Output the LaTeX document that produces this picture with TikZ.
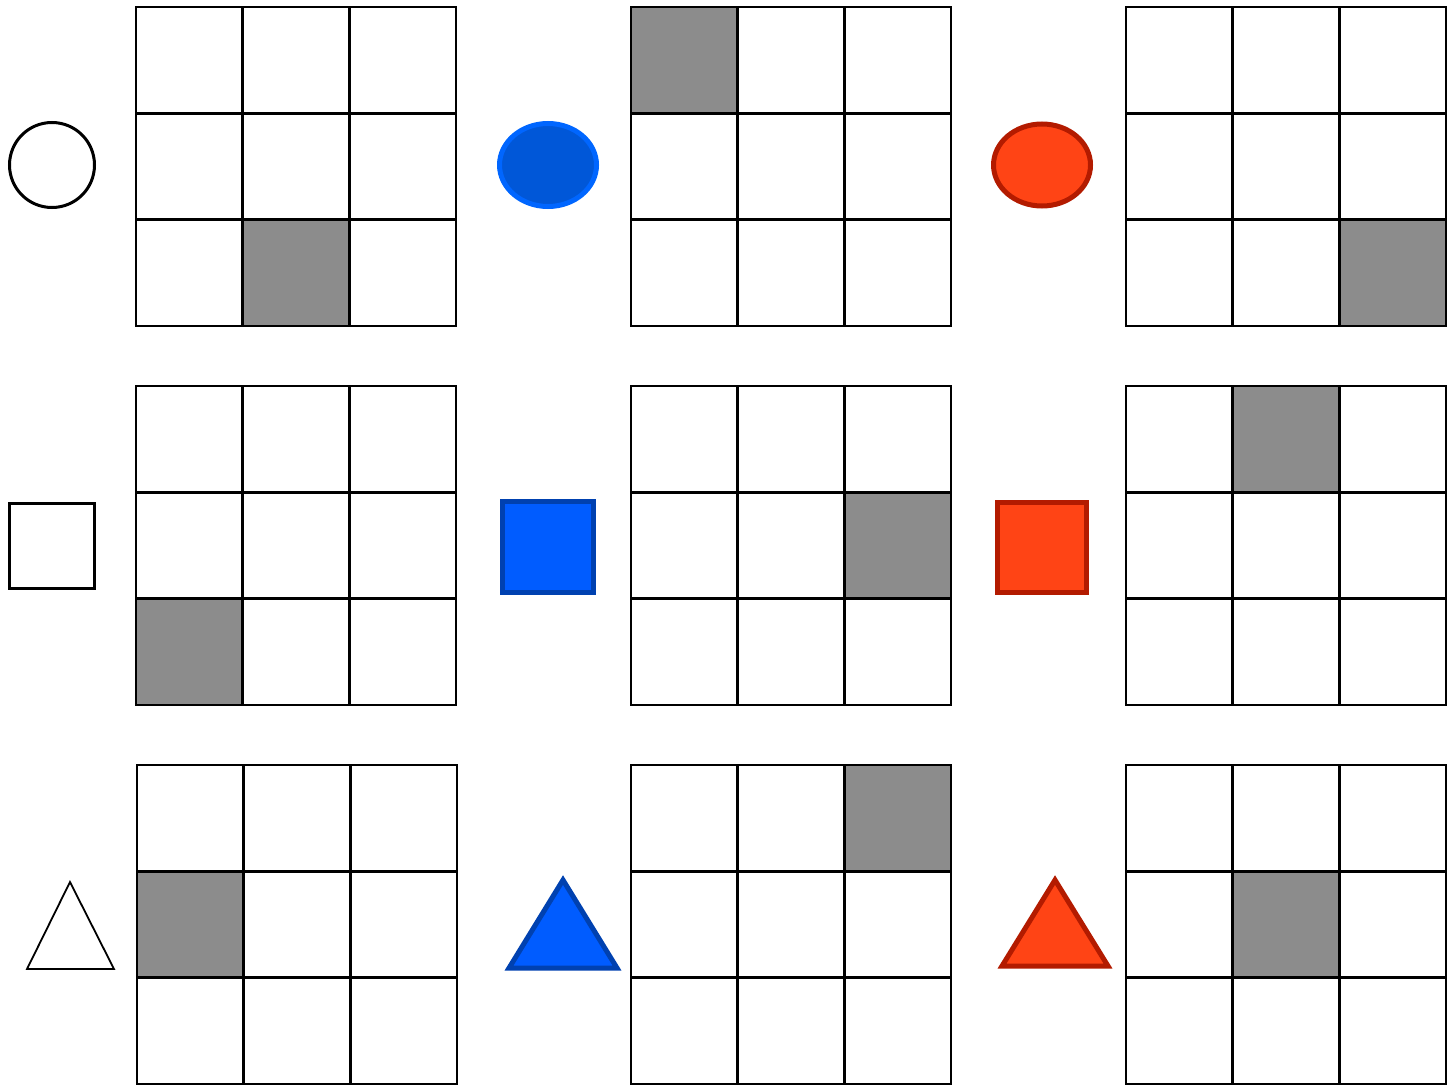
\documentclass[tikz,border=0pt]{standalone}
\usepackage{tikz}
\usetikzlibrary{shapes.geometric}

\definecolor{blueA}{HTML}{0057D8}
\definecolor{blueAline}{HTML}{0066FF}
\definecolor{blueB}{HTML}{005CFF}
\definecolor{blueBline}{HTML}{0041B0}
\definecolor{redA}{HTML}{FF4415}
\definecolor{redAline}{HTML}{B31B00}
\definecolor{shade}{HTML}{8C8C8C}

\begin{document}
\begin{tikzpicture}[x=0.5pt, y=-0.5pt,
        gridline/.style={draw=black, line width=1.25pt, line cap=rect},
        hit/.style={fill=shade},
        plain/.style={draw=black, fill=white, line width=1.5pt, inner sep=0pt},
        bluefig/.style={draw=blueBline, fill=blueB, line width=2.5pt, inner sep=0pt, line join=miter},
        redfig/.style={draw=redAline, fill=redA, line width=2.5pt, inner sep=0pt, line join=miter}
    ]
        \useasboundingbox (0,0) rectangle (1454,1086);

        % Rasters: origin x / origin y / shaded column / shaded row
        \foreach \gx/\gy/\sc/\sr in {136/7/2/3, 631/7/1/1, 1126/7/3/3,
                                     136/386/1/3, 631/386/3/2, 1126/386/2/1,
                                     137/765/1/2, 631/765/3/1, 1126/765/2/2} {
            \fill[hit] ({\gx+(\sc-1)*106.67},{\gy+(\sr-1)*106.33}) rectangle ++(106.67,106.33);
            \foreach \k in {0,...,3} {
                \draw[gridline] ({\gx+\k*106.67},\gy) -- ++(0,319);
                \draw[gridline] (\gx,{\gy+\k*106.33}) -- ++(320,0);
            }
        }

        % Kreise
        \node[plain, circle, minimum size=42.5pt] (circW) at (52,165) {};
        \node[ellipse, draw=blueAline, fill=blueA, line width=2.5pt, inner sep=0pt, minimum width=48.5pt, minimum height=41.5pt] (circB) at (548,165) {};
        \node[redfig, ellipse, minimum width=48.5pt, minimum height=41pt] (circR) at (1042,165) {};

        % Quadrate
        \node[plain, rectangle, minimum size=42.5pt] (sqW) at (52,546) {};
        \node[bluefig, rectangle, minimum size=45.5pt] (sqB) at (547.5,547) {};
        \node[redfig, rectangle, minimum width=44.5pt, minimum height=45pt] (sqR) at (1042,547.5) {};

        % Dreiecke
        \draw[draw=black, line width=0.9pt, line join=miter] (70,882) -- (114,969) -- (27,969) -- cycle;
        \draw[bluefig] (563,880) -- (617,968) -- (509,968) -- cycle;
        \draw[redfig] (1055,880) -- (1108,966) -- (1002,966) -- cycle;
    \end{tikzpicture}
\end{document}
